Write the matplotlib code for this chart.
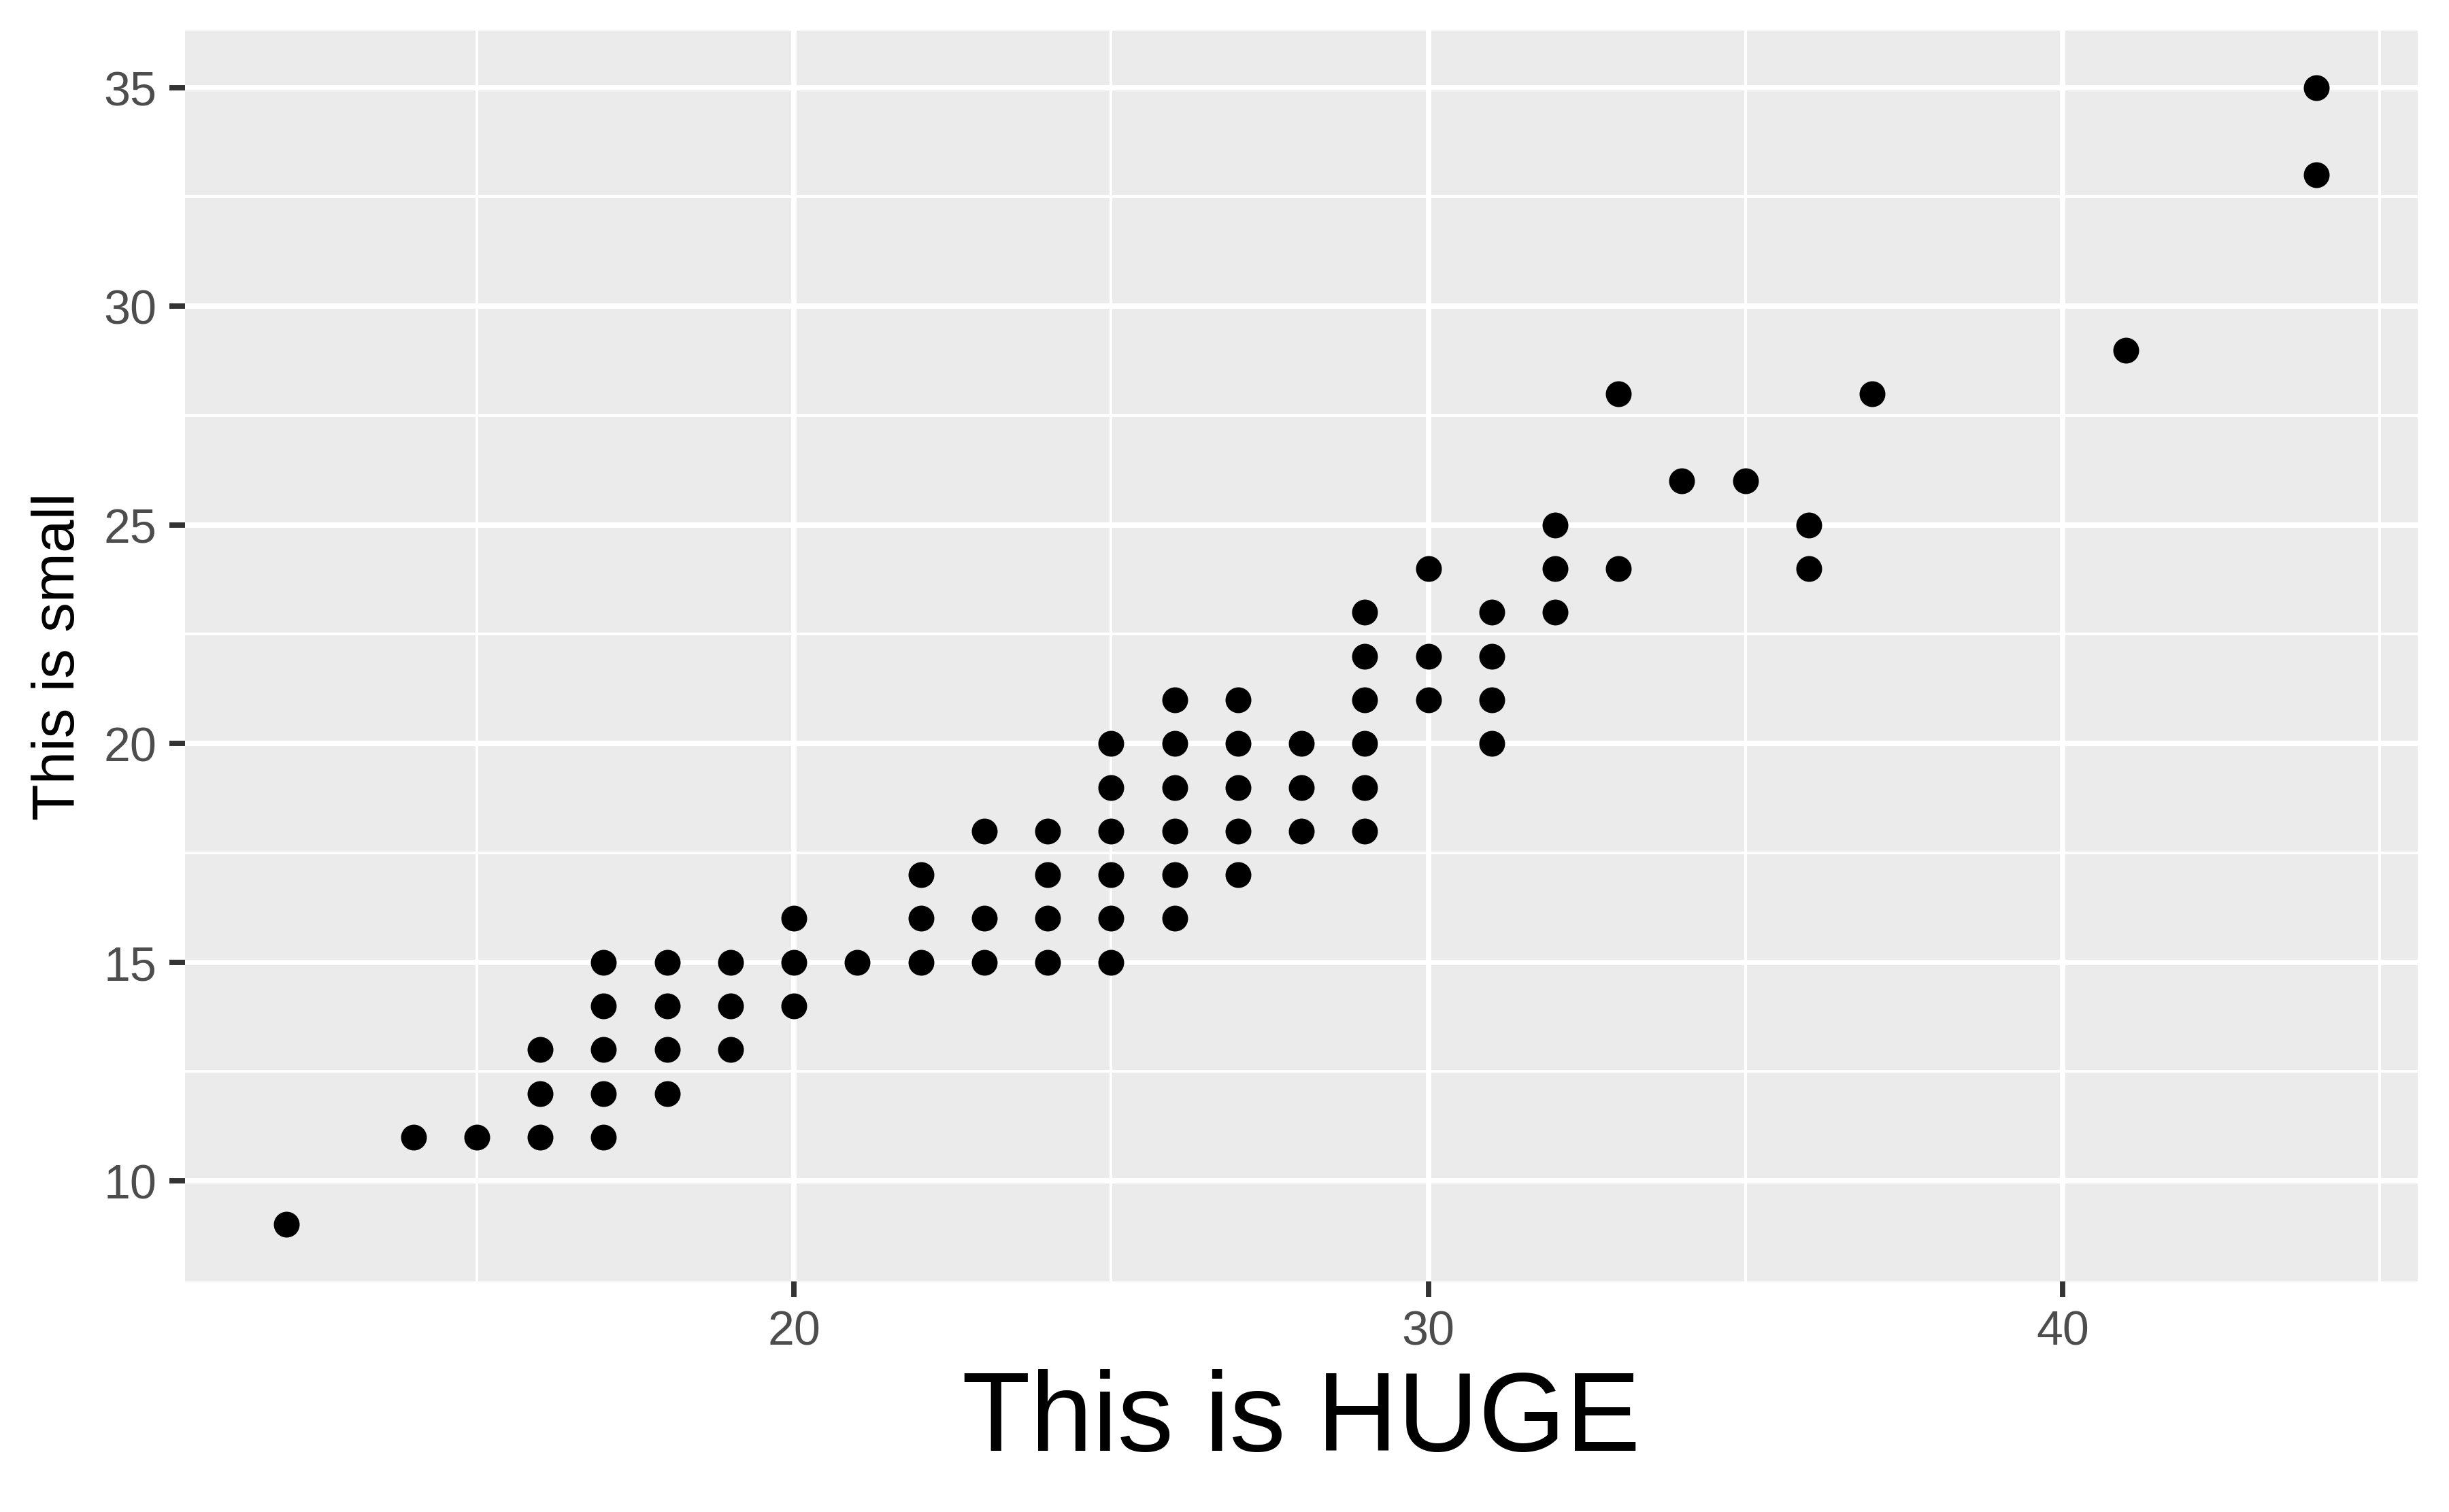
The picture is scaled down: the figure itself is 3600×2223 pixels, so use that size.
import matplotlib
matplotlib.use('Agg')
import matplotlib.pyplot as plt
from matplotlib.ticker import FixedLocator

plt.rcParams['font.family'] = ['Liberation Sans', 'DejaVu Sans']

# highway vs city mileage, one point per distinct pair
hwy = [12, 14, 15,
       16, 16, 16,
       17, 17, 17, 17, 17,
       18, 18, 18, 18,
       19, 19, 19,
       20, 20, 20,
       21,
       22, 22, 22,
       23, 23, 23,
       24, 24, 24, 24,
       25, 25, 25, 25, 25, 25,
       26, 26, 26, 26, 26, 26,
       27, 27, 27, 27, 27,
       28, 28, 28,
       29, 29, 29, 29, 29, 29,
       30, 30, 30,
       31, 31, 31, 31,
       32, 32, 32,
       33, 33,
       34, 35,
       36, 36,
       37, 41,
       44, 44]
cty = [9, 11, 11,
       11, 12, 13,
       11, 12, 13, 14, 15,
       12, 13, 14, 15,
       13, 14, 15,
       14, 15, 16,
       15,
       15, 16, 17,
       15, 16, 18,
       15, 16, 17, 18,
       15, 16, 17, 18, 19, 20,
       16, 17, 18, 19, 20, 21,
       17, 18, 19, 20, 21,
       18, 19, 20,
       18, 19, 20, 21, 22, 23,
       21, 22, 24,
       20, 21, 22, 23,
       23, 24, 25,
       24, 28,
       26, 26,
       24, 25,
       28, 29,
       33, 35]

x_major = [20, 30, 40]
x_minor = [15, 25, 35, 45]
y_major = [10, 15, 20, 25, 30, 35]
y_minor = [12.5, 17.5, 22.5, 27.5, 32.5]

fig = plt.figure(figsize=(12, 7.413), dpi=300)
ax = fig.add_axes([0.0756, 0.1524, 0.9872 - 0.0756, 0.9793 - 0.1524])
ax.set_facecolor('#EBEBEB')

for v in x_minor:
    ax.axvline(v, color='white', lw=0.95, zorder=0)
for v in y_minor:
    ax.axhline(v, color='white', lw=0.95, zorder=0)
for v in x_major:
    ax.axvline(v, color='white', lw=1.9, zorder=0)
for v in y_major:
    ax.axhline(v, color='white', lw=1.9, zorder=0)

ax.scatter(hwy, cty, s=83, color='black', linewidths=0, zorder=3)

# ggplot-style 5% expansion
xr = max(hwy) - min(hwy)
yr = max(cty) - min(cty)
ax.set_xlim(min(hwy) - 0.05 * xr, max(hwy) + 0.05 * xr)
ax.set_ylim(min(cty) - 0.05 * yr, max(cty) + 0.05 * yr)

ax.xaxis.set_major_locator(FixedLocator(x_major))
ax.yaxis.set_major_locator(FixedLocator(y_major))
ax.tick_params(axis='both', which='major', length=5.5, width=1.9,
               color='#333333', labelcolor='#4D4D4D', labelsize=16.8, pad=4.5)
ax.tick_params(which='minor', length=0)

for s in ax.spines.values():
    s.set_visible(False)

ax.set_xlabel('This is HUGE', fontsize=39.5, color='black', labelpad=5)
ax.set_ylabel('This is small', fontsize=21, color='black', labelpad=6)

fig.savefig('out.png', dpi=300, facecolor='white')
